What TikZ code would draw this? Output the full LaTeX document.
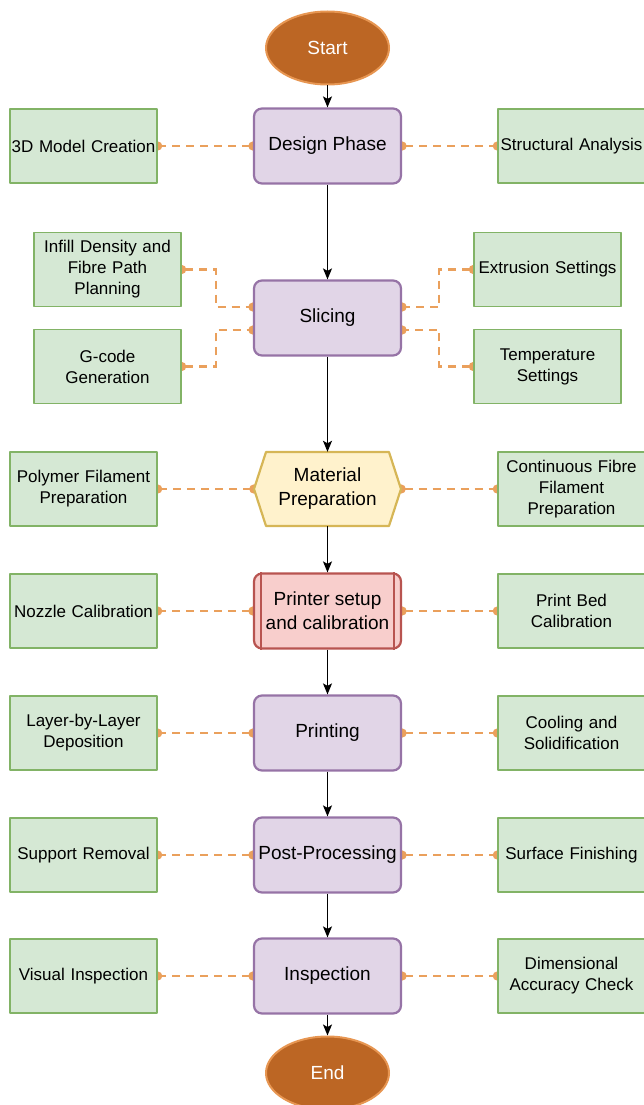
\documentclass[tikz,border=0pt]{standalone}
\usepackage{fontspec}
\setmainfont{Liberation Sans}
\usepackage{xcolor}
\usetikzlibrary{arrows.meta,calc,shapes.geometric,backgrounds}
\definecolor{ColTerm}{RGB}{188,102,36}
\definecolor{ColTermLine}{RGB}{231,150,82}
\definecolor{ColStep}{HTML}{E1D5E7}
\definecolor{ColStepLine}{HTML}{9673A6}
\definecolor{ColSub}{HTML}{D5E8D4}
\definecolor{ColSubLine}{HTML}{82B366}
\definecolor{ColMat}{HTML}{FFF2CC}
\definecolor{ColMatLine}{HTML}{D6B656}
\definecolor{ColSetup}{HTML}{F8CECC}
\definecolor{ColSetupLine}{HTML}{B85450}
\definecolor{ColLink}{RGB}{234,160,92}

\begin{document}
\begin{tikzpicture}[
  x=1pt, y=-1pt,
  >={Stealth[length=11pt,width=9pt,inset=2.5pt]},
  line join=round,
  term/.style={ellipse, draw=ColTermLine, fill=ColTerm, line width=2pt,
    minimum width=123pt, minimum height=73pt, inner sep=0pt, text=white,
    font=\fontsize{19}{24}\selectfont},
  stepbox/.style={rectangle, rounded corners=8pt, draw=ColStepLine, fill=ColStep,
    line width=2.2pt, minimum width=147pt, minimum height=75pt, inner sep=0pt,
    align=center, font=\fontsize{19}{24}\selectfont},
  subbox/.style={rectangle, draw=ColSubLine, fill=ColSub, line width=1.4pt,
    minimum width=147pt, minimum height=74pt, inner sep=0pt, text width=146pt,
    align=center, font=\fontsize{17}{21}\selectfont},
  flow/.style={->, line width=1.3pt, black},
  link/.style={draw=ColLink, line width=2.4pt, dash pattern=on 8pt off 6pt,
    {Circle[length=9pt,width=9pt]}-{Circle[length=9pt,width=9pt]},
    shorten <=-4.5pt, shorten >=-4.5pt}
]
  \useasboundingbox (0,0) rectangle (643,1105);

  % Main steps
  \node[term]    (start)  at (327.5,48)   {Start};
  \node[stepbox] (design) at (327.5,146)  {Design Phase};
  \node[stepbox] (slice)  at (327.5,318)  {Slicing};

  % Material preparation (hexagon)
  \coordinate (matc) at (327.5,489);
  \draw[draw=ColMatLine, fill=ColMat, line width=2.2pt]
    ($(matc)+(-73.5,0)$) -- ++(12,-37) -- ++(123,0) -- ++(12,37)
    -- ++(-12,37) -- ++(-123,0) -- cycle;
  \node[minimum width=147pt, minimum height=74pt, inner sep=0pt, align=center,
    font=\fontsize{19}{24}\selectfont] (mat) at (matc) {Material\\Preparation};

  % Printer setup (process box)
  \node[stepbox, draw=ColSetupLine, fill=ColSetup] (setup) at (327.5,611)
    {Printer setup\\and calibration};
  \draw[ColSetupLine, line width=2.2pt]
    ($(setup.north west)+(8,0)$) -- ($(setup.south west)+(8,0)$)
    ($(setup.north east)+(-8,0)$) -- ($(setup.south east)+(-8,0)$);

  \node[stepbox] (print)  at (327.5,733)  {Printing};
  \node[stepbox] (post)   at (327.5,855)  {Post-Processing};
  \node[stepbox] (insp)   at (327.5,976)  {Inspection};
  \node[term]    (finish) at (327.5,1073) {End};

  % Side tasks
  \node[subbox] (model)  at (83.5,146)    {3D Model Creation};
  \node[subbox] (struct) at (571.5,146)   {Structural Analysis};
  \node[subbox] (infill) at (107.5,269.5) {Infill Density and\\Fibre Path\\Planning};
  \node[subbox] (gcode)  at (107.5,366.5) {G-code\\Generation};
  \node[subbox] (extr)   at (547.5,269.5) {Extrusion Settings};
  \node[subbox] (temp)   at (547.5,366.5) {Temperature\\Settings};
  \node[subbox] (poly)   at (83.5,489)    {Polymer Filament\\Preparation};
  \node[subbox] (fibre)  at (571.5,489)   {Continuous Fibre\\Filament\\Preparation};
  \node[subbox] (nozzle) at (83.5,611)    {Nozzle Calibration};
  \node[subbox] (bed)    at (571.5,611)   {Print Bed\\Calibration};
  \node[subbox] (layer)  at (83.5,733)    {Layer-by-Layer\\Deposition};
  \node[subbox] (cool)   at (571.5,733)   {Cooling and\\Solidification};
  \node[subbox] (supp)   at (83.5,855)    {Support Removal};
  \node[subbox] (surf)   at (571.5,855)   {Surface Finishing};
  \node[subbox] (visual) at (83.5,976)    {Visual Inspection};
  \node[subbox] (dimen)  at (571.5,976)   {Dimensional\\Accuracy Check};

  % Flow
  \foreach \a/\b in {start/design,design/slice,slice/mat,mat/setup,
                     setup/print,print/post,post/insp,insp/finish}
    {\draw[flow] (\a) -- (\b);}

  % Dashed links
  \begin{scope}[on background layer]
    \foreach \a/\b in {design/model,mat/poly,setup/nozzle,print/layer,post/supp,insp/visual}
      {\draw[link] (\a.west) -- (\b.east);}
    \foreach \a/\b in {design/struct,mat/fibre,setup/bed,print/cool,post/surf,insp/dimen}
      {\draw[link] (\a.east) -- (\b.west);}
    \draw[link] (infill.east) -| ($(slice.west)+(-37,-11)$) -- ($(slice.west)+(0,-11)$);
    \draw[link] (gcode.east)  -| ($(slice.west)+(-37,12)$)  -- ($(slice.west)+(0,12)$);
    \draw[link] (extr.west)   -| ($(slice.east)+(37,-11)$)  -- ($(slice.east)+(0,-11)$);
    \draw[link] (temp.west)   -| ($(slice.east)+(37,12)$)   -- ($(slice.east)+(0,12)$);
  \end{scope}
\end{tikzpicture}
\end{document}
